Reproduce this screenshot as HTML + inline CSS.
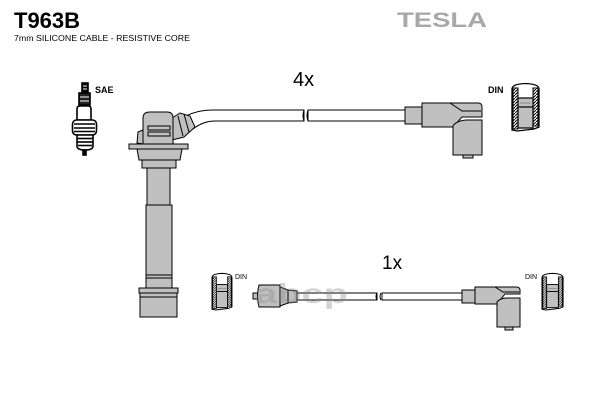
<!DOCTYPE html>
<html><head><meta charset="utf-8"><style>
html,body{margin:0;padding:0;background:#fff;}
svg{display:block;}
</style></head><body>
<svg width="600" height="400" viewBox="0 0 600 400" xmlns="http://www.w3.org/2000/svg">
<defs>
<pattern id="hatch" width="3" height="3" patternUnits="userSpaceOnUse">
<rect width="3" height="3" fill="#fff"/>
<path d="M0,3 L3,0" stroke="#000" stroke-width="1"/>
</pattern>
<g id="din">
<path d="M0,6 Q0,1 13.5,0.5 Q27,1 27,6 L27,44 L22,46 L5,48 L0,47 Z" fill="#fff" stroke="#000" stroke-width="1.3"/>
<rect x="1" y="5" width="5" height="41" fill="url(#hatch)" stroke="#000" stroke-width="1"/>
<rect x="21" y="5" width="5" height="38" fill="url(#hatch)" stroke="#000" stroke-width="1"/>
<rect x="6" y="15" width="15" height="30" fill="#c0c0c0" stroke="#000" stroke-width="1.2"/>
<line x1="6" y1="24" x2="21" y2="24" stroke="#000" stroke-width="1.2"/>
<line x1="8" y1="20" x2="19" y2="20" stroke="#888" stroke-width="1"/>
</g>
</defs>

<!-- Title -->
<text x="14" y="28" font-family="Liberation Sans, sans-serif" font-weight="bold" font-size="22" fill="#000">T963B</text>
<text x="14" y="41" font-family="Liberation Sans, sans-serif" font-size="8" fill="#000" textLength="176" lengthAdjust="spacingAndGlyphs">7mm SILICONE CABLE - RESISTIVE CORE</text>
<text x="397" y="27" font-family="Liberation Sans, sans-serif" font-weight="bold" font-size="21" fill="#a8a8a8" textLength="90" lengthAdjust="spacingAndGlyphs">TESLA</text>

<!-- Labels -->
<text x="293" y="86" font-family="Liberation Sans, sans-serif" font-size="20" fill="#000">4x</text>
<text x="382" y="269" font-family="Liberation Sans, sans-serif" font-size="19" fill="#000">1x</text>
<text x="95" y="93" font-family="Liberation Sans, sans-serif" font-weight="bold" font-size="9" fill="#000">SAE</text>
<text x="488" y="93" font-family="Liberation Sans, sans-serif" font-weight="bold" font-size="9" fill="#000">DIN</text>
<text x="235" y="279" font-family="Liberation Sans, sans-serif" font-size="7" fill="#000">DIN</text>
<text x="525" y="279" font-family="Liberation Sans, sans-serif" font-size="7" fill="#000">DIN</text>

<!-- Spark plug -->
<g stroke="#000" stroke-width="1.6">
<rect x="82" y="83" width="6" height="10" fill="#000"/>
<line x1="83" y1="86" x2="87" y2="86" stroke="#fff" stroke-width="1"/>
<line x1="83" y1="89" x2="87" y2="89" stroke="#fff" stroke-width="1"/>
<rect x="79" y="93" width="11" height="12" fill="#222"/>
<line x1="80" y1="97" x2="89" y2="97" stroke="#fff" stroke-width="1"/>
<line x1="80" y1="101" x2="89" y2="101" stroke="#fff" stroke-width="1"/>
<path d="M77,120 L77,109 Q77,106 80,106 L88,106 Q91,106 91,109 L91,120 Z" fill="#fff"/>
<rect x="72.5" y="120" width="24" height="15" rx="4" fill="#fff"/>
<line x1="74" y1="124" x2="95" y2="124"/>
<line x1="74" y1="128" x2="95" y2="128"/>
<line x1="74" y1="131.5" x2="95" y2="131.5"/>
<path d="M77,135 L93,135 L93,146 Q93,150 85,150 Q77,150 77,146 Z" fill="#fff"/>
<line x1="77" y1="138.5" x2="93" y2="138.5"/>
<line x1="77" y1="142" x2="93" y2="142"/>
<line x1="78" y1="145.5" x2="92" y2="145.5"/>
<rect x="83" y="150" width="3" height="5" fill="#000"/>
</g>

<!-- Coil -->
<g fill="#c0c0c0" stroke="#000" stroke-width="1">
<!-- top cable -->
<path d="M186,116 Q198,110 212,110 L304,110 L304,121 L215,121 Q203,121 193,129 Z" fill="#fff"/>
<path d="M308,110 L405,110 L405,121 L308,121 Z" fill="#fff"/>
<path d="M304,110 q-2,5.5 0,11 M308,110 q-2,5.5 0,11" fill="none"/>
<polygon points="172,118 180,113 190,116 195,127 184,137 172,140"/>
<line x1="178" y1="116" x2="183" y2="136"/>
<line x1="184" y1="114" x2="189" y2="132"/>
<path d="M137,143 L138,132 L143,130 L143,144 Z"/>
<path d="M143,145 L143,118 Q143,112 150,112 L167,112 Q173,112 173,118 L173,145 Z"/>
<rect x="148" y="126" width="22" height="4" fill="#c0c0c0"/>
<rect x="148" y="132" width="22" height="4" fill="#c0c0c0"/>
<rect x="129" y="144" width="59" height="5"/>
<path d="M137,149 L182,149 L180,160 L139,160 Z"/>
<rect x="142" y="160" width="34" height="8"/>
<rect x="147" y="168" width="23" height="37"/>
<rect x="146" y="205" width="26" height="83"/>
<line x1="146" y1="275" x2="172" y2="275"/>
<line x1="146" y1="278" x2="172" y2="278"/>
<rect x="139" y="288" width="39" height="5"/>
<rect x="140" y="293" width="37" height="24"/>
<line x1="140" y1="297" x2="177" y2="297"/>
</g>

<!-- Top right angled boot -->
<g fill="#c0c0c0" stroke="#000" stroke-width="1">
<rect x="405" y="107" width="17" height="17"/>
<path d="M422,103 L478,103 Q482,103 482,107 L482,117 L462,117 L453,127 L422,127 Z"/>
<path d="M450,103 L462,111 L481,111" fill="none"/>
<path d="M453,155 L453,126 Q456,121 466,120 L482,120 L482,155 Z"/>
<rect x="463" y="155" width="10" height="3"/>
</g>

<!-- DIN icons -->
<use href="#din" transform="translate(512,83)"/>
<use href="#din" transform="translate(212,273) scale(0.74,0.77)"/>
<use href="#din" transform="translate(542,273) scale(0.78,0.77)"/>

<!-- Bottom cable -->
<g fill="#c0c0c0" stroke="#000" stroke-width="1">
<path d="M296,293 L377,293 L377,300 L296,300 Z" fill="#fff"/>
<path d="M382,293 L462,293 L462,300 L382,300 Z" fill="#fff"/>
<path d="M377,293 q-2,3.5 0,7 M381,293 q-2,3.5 0,7" fill="none"/>
<rect x="253" y="293" width="5" height="6"/>
<path d="M259,285 L280,285 L280,307 L259,307 Q256,296 259,285 Z"/>
<polygon points="280,287 288,290 297,291 297,302 288,303 280,306"/>
<line x1="288" y1="290" x2="288" y2="303"/>
<!-- bottom right boot -->
<rect x="462" y="290" width="13" height="13"/>
<path d="M475,287 L516,287 Q520,287 520,290 L520,294 L505,294 L497,304 L475,304 Z"/>
<path d="M495,287 L503,292 L519,292" fill="none"/>
<path d="M497,327 L497,302 Q500,298 507,298 L520,298 L520,327 Z"/>
<rect x="505" y="327" width="8" height="3"/>
</g>

<!-- watermark -->
<text x="255" y="303" font-family="Liberation Sans, sans-serif" font-weight="bold" font-size="28" fill="#888" fill-opacity="0.35" textLength="93" lengthAdjust="spacingAndGlyphs">abcp</text>
</svg>
</body></html>
